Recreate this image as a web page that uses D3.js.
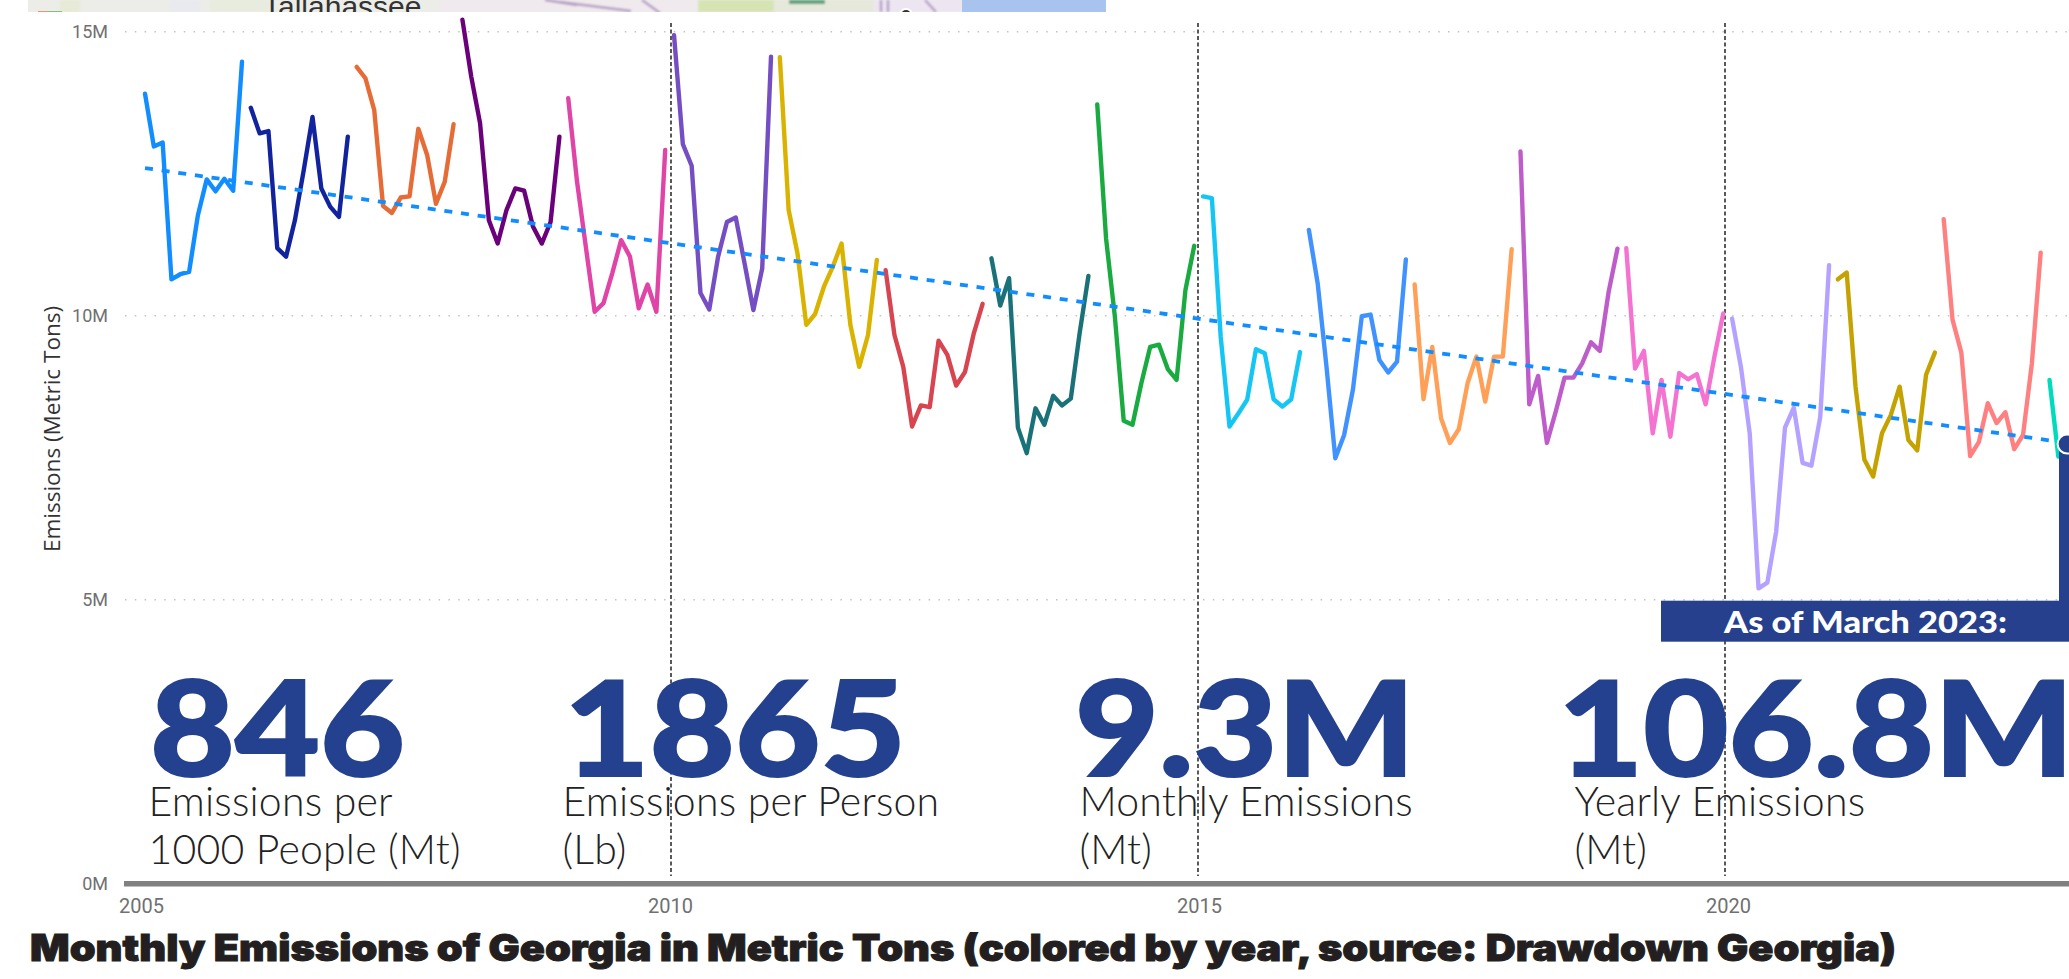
<!DOCTYPE html>
<html>
<head>
<meta charset="utf-8">
<script src="https://cdn.jsdelivr.net/npm/d3@7"></script>
<style>
    html, body { margin: 0; padding: 0; background: #fff; overflow: hidden; }
    svg { display: block; }
</style>
</head>
<body>
<div id="chartContainer"></div>
<script>
// monthly emissions in millions of metric tons
const m2005 = [13.91, 12.98, 13.05, 10.64, 10.73, 10.77, 11.77, 12.40, 12.19, 12.41, 12.20, 14.47];
const m2006 = [13.66, 13.21, 13.25, 11.19, 11.04, 11.68, 12.56, 13.50, 12.24, 11.92, 11.74, 13.15];
const m2007 = [14.38, 14.18, 13.62, 11.93, 11.81, 12.08, 12.10, 13.29, 12.83, 11.97, 12.36, 13.37];
const m2008 = [15.21, 14.21, 13.39, 11.68, 11.27, 11.86, 12.24, 12.20, 11.57, 11.27, 11.65, 13.15];
const m2009 = [13.83, 12.36, 11.21, 10.07, 10.22, 10.75, 11.33, 11.04, 10.13, 10.55, 10.07, 12.92];
const m2010 = [14.94, 13.02, 12.64, 10.40, 10.11, 11.04, 11.65, 11.73, 10.92, 10.10, 10.83, 14.56];
const m2011 = [14.55, 11.86, 11.10, 9.84, 10.03, 10.51, 10.86, 11.27, 9.84, 9.10, 9.66, 10.98];
const m2012 = [10.80, 9.66, 9.10, 8.05, 8.42, 8.39, 9.56, 9.31, 8.77, 9.01, 9.69, 10.21];
const m2013 = [11.01, 10.18, 10.66, 8.03, 7.58, 8.37, 8.08, 8.59, 8.42, 8.54, 9.69, 10.70];
const m2014 = [13.72, 11.36, 9.98, 8.15, 8.08, 8.81, 9.45, 9.49, 9.06, 8.87, 10.45, 11.23];
const m2015 = [12.10, 12.07, 9.63, 8.05, 8.28, 8.52, 9.41, 9.34, 8.53, 8.40, 8.53, 9.36];
const m2016 = [11.51, 10.57, 9.10, 7.49, 7.90, 8.70, 9.99, 10.02, 9.22, 9.00, 9.19, 10.99];
const m2017 = [10.55, 8.53, 9.45, 8.19, 7.76, 8.00, 8.81, 9.28, 8.49, 9.28, 9.28, 11.17];
const m2018 = [12.89, 8.44, 8.94, 7.76, 8.31, 8.91, 8.91, 9.16, 9.53, 9.38, 10.42, 11.18];
const m2019 = [11.19, 9.07, 9.38, 7.93, 8.87, 7.87, 8.99, 8.88, 8.97, 8.44, 9.28, 10.04];
const m2020 = [9.95, 9.10, 7.93, 5.20, 5.30, 6.20, 8.03, 8.38, 7.41, 7.36, 8.22, 10.89];
const m2021 = [10.64, 10.76, 8.75, 7.47, 7.17, 7.93, 8.25, 8.75, 7.81, 7.63, 8.96, 9.35];
const m2022 = [11.70, 9.93, 9.35, 7.53, 7.78, 8.46, 8.11, 8.30, 7.65, 7.90, 9.16, 11.11];
const m2023 = [8.87, 7.52];

const years = [2005, 2006, 2007, 2008, 2009, 2010, 2011, 2012, 2013, 2014, 2015, 2016, 2017, 2018, 2019, 2020, 2021, 2022, 2023];
const yearValues = [m2005, m2006, m2007, m2008, m2009, m2010, m2011, m2012, m2013, m2014, m2015, m2016, m2017, m2018, m2019, m2020, m2021, m2022, m2023];
const yearColors = ['#118DFF', '#12239E', '#E66C37', '#6B007B', '#E044A7', '#744EC2', '#D9B300', '#D64550', '#197278', '#1AAB40',
    '#15C6F4', '#4092FF', '#FFA058', '#BE5DC9', '#F472D0', '#B5A1FF', '#C4A200', '#FF8080', '#00DBBC'];

const trendTimes = [2005, 2023 + 2 / 12];
const trendValues = [12.60, 7.76];
const latestTime = 2023 + 2 / 12;
const latestValue = 7.74;

const yTicks = [0, 5, 10, 15];
const xTicks = [2005, 2010, 2015, 2020];
const dividerYears = [2010, 2015, 2020];

const kpiValues = ['846', '1865', '9.3M', '106.8M'];
const kpiLabels = [
    ['Emissions per', '1000 People (Mt)'],
    ['Emissions per Person', '(Lb)'],
    ['Monthly Emissions', '(Mt)'],
    ['Yearly Emissions', '(Mt)']
];

const svgWidth = 2069;
const svgHeight = 979;
const navy = '#26408E';

const xScale = d3.scaleLinear().domain([2005, 2023]).range([145, 2049.5]);
const yScale = d3.scaleLinear().domain([0, 15]).range([883.7, 31.7]);
// the axis labels and hand placed dividers sit a little left of the data
const xLabelScale = d3.scaleLinear().domain([2005, 2020]).range([141, 1728]);
const dividerScale = d3.scaleLinear().domain([2010, 2020]).range([671, 1725]);

const svg = d3.select('#chartContainer')
    .append('svg')
    .attr('width', svgWidth)
    .attr('height', svgHeight);

const defs = svg.append('defs');
defs.append('clipPath').attr('id', 'mapClip')
    .append('rect').attr('x', 28).attr('y', 0).attr('width', 1078).attr('height', 12);
defs.append('filter').attr('id', 'soft')
    .append('feGaussianBlur').attr('stdDeviation', 1.2);

// strip of the map that sits above the chart
const map = svg.append('g').attr('clip-path', 'url(#mapClip)');
map.append('rect').attr('x', 28).attr('y', 0).attr('width', 1078).attr('height', 12).attr('fill', '#ECECE8');
const mapInner = map.append('g').attr('filter', 'url(#soft)');
const mapPatches = [
    [60, 0, 20, 12, '#E8EAD8'],
    [170, 0, 30, 12, '#E9EAF0'],
    [210, 0, 60, 12, '#E8ECDF'],
    [440, 0, 260, 12, '#F0EAEE'],
    [698, 0, 76, 12, '#D6E4B4'],
    [774, 0, 100, 12, '#E6E8DC'],
    [874, 0, 88, 12, '#EDE6F2'],
    [789, 0, 36, 4, '#5E9E7E']
];
mapInner.selectAll('rect').data(mapPatches).enter().append('rect')
    .attr('x', d => d[0]).attr('y', d => d[1]).attr('width', d => d[2]).attr('height', d => d[3])
    .attr('fill', d => d[4]);
const mapRoads = [
    [[545, 0], [577, 5]],
    [[560, 2], [631, 11]],
    [[642, 0], [660, 13]],
    [[881, 0], [881, 12]],
    [[888, 0], [888, 12]],
    [[925, 0], [936, 12]]
];
mapInner.selectAll('path').data(mapRoads).enter().append('path')
    .attr('d', d3.line())
    .attr('fill', 'none').attr('stroke', '#B49CC4').attr('stroke-width', 2.5);
map.append('rect').attr('x', 38).attr('y', 11).attr('width', 10).attr('height', 1).attr('fill', '#E8947A');
map.append('rect').attr('x', 48).attr('y', 11).attr('width', 14).attr('height', 1).attr('fill', '#7FBF7F');
map.append('rect').attr('x', 962).attr('y', 0).attr('width', 144).attr('height', 12).attr('fill', '#A8C3EE');
map.append('circle').attr('cx', 906).attr('cy', 15).attr('r', 6).attr('fill', '#333').attr('stroke', '#fff').attr('stroke-width', 2);
map.append('text').attr('x', 263).attr('y', 17)
    .style('font-family', '"Liberation Sans", sans-serif').style('font-size', '30px').attr('fill', '#333')
    .text('Tallahassee');

// gridlines
svg.append('g').selectAll('line').data(yTicks.filter(d => d > 0)).enter().append('line')
    .attr('x1', 125).attr('x2', svgWidth)
    .attr('y1', d => yScale(d)).attr('y2', d => yScale(d))
    .attr('stroke', '#C4C4C4').attr('stroke-width', 1.5).attr('stroke-dasharray', '1.5 8.3');

// y axis labels
const yAxis = d3.axisLeft(yScale).tickValues(yTicks).tickFormat(d => d + 'M').tickSize(0).tickPadding(0);
const yAxisG = svg.append('g').attr('transform', 'translate(108, 0)').call(yAxis);
yAxisG.select('.domain').remove();
yAxisG.selectAll('text').style('font-family', 'Roboto, sans-serif').style('font-size', '18px').attr('fill', '#707070');

// x axis labels
const xAxis = d3.axisBottom(xLabelScale).tickValues(xTicks).tickFormat(d3.format('d')).tickSize(0).tickPadding(0);
const xAxisG = svg.append('g').attr('transform', 'translate(0, 899)').call(xAxis);
xAxisG.select('.domain').remove();
xAxisG.selectAll('text').style('font-family', 'Roboto, sans-serif').style('font-size', '20px').attr('fill', '#707070');

svg.append('text')
    .attr('transform', 'translate(60, 429) rotate(-90)')
    .attr('text-anchor', 'middle')
    .style('font-family', '"Open Sans", sans-serif').style('font-size', '22.5px').attr('fill', '#333')
    .text('Emissions (Metric Tons)');

// dashed dividers at every fifth year
svg.append('g').selectAll('line').data(dividerYears).enter().append('line')
    .attr('x1', d => dividerScale(d)).attr('x2', d => dividerScale(d))
    .attr('y1', 23).attr('y2', 876)
    .attr('stroke', '#000').attr('stroke-width', 1.3).attr('stroke-dasharray', '4 2.5');

// baseline
svg.append('line')
    .attr('x1', 124).attr('x2', svgWidth)
    .attr('y1', yScale(0)).attr('y2', yScale(0))
    .attr('stroke', '#808080').attr('stroke-width', 5.5);

// one line per year
const line = d3.line()
    .x(d => xScale(d.t))
    .y(d => yScale(d.v));

const series = years.map((year, i) => ({
    year: year,
    color: yearColors[i],
    points: yearValues[i].map((v, m) => ({ t: year + m / 12, v: v }))
}));

svg.append('g').selectAll('path').data(series).enter().append('path')
    .attr('d', d => line(d.points))
    .attr('fill', 'none')
    .attr('stroke', d => d.color)
    .attr('stroke-width', 4.4)
    .attr('stroke-linejoin', 'round')
    .attr('stroke-linecap', 'round');

// trend
svg.append('path')
    .attr('d', line(trendTimes.map((t, i) => ({ t: t, v: trendValues[i] }))))
    .attr('fill', 'none')
    .attr('stroke', '#118DFF')
    .attr('stroke-width', 3.8)
    .attr('stroke-dasharray', '8 8.8');

// callout for the latest month
svg.append('rect')
    .attr('x', 2059).attr('y', yScale(latestValue))
    .attr('width', 10).attr('height', 601 - yScale(latestValue))
    .attr('fill', navy);
svg.append('circle')
    .attr('cx', xScale(latestTime)).attr('cy', yScale(latestValue)).attr('r', 9.5)
    .attr('fill', navy).attr('stroke', '#fff').attr('stroke-width', 2);
svg.append('rect')
    .attr('x', 1661).attr('y', 600.7).attr('width', 408).attr('height', 41)
    .attr('fill', navy);
svg.append('text')
    .attr('x', 1724).attr('y', 633)
    .attr('textLength', 283).attr('lengthAdjust', 'spacingAndGlyphs')
    .style('font-family', 'Lato, sans-serif').style('font-weight', 900).style('font-size', '30px')
    .attr('fill', '#fff')
    .text('As of March 2023:');

// big numbers
const kpiX = [150, 564, 1075, 1558];
const kpiWidth = [255, 342, 340, 516];
const kpiLabelX = [148.5, 562.5, 1079.5, 1574.5];
svg.append('g').selectAll('text').data(kpiValues).enter().append('text')
    .attr('x', (d, i) => kpiX[i]).attr('y', 775.7)
    .attr('textLength', (d, i) => kpiWidth[i]).attr('lengthAdjust', 'spacingAndGlyphs')
    .style('font-family', 'Lato, sans-serif').style('font-weight', 900).style('font-size', '131px')
    .attr('fill', '#24418F').attr('stroke', '#24418F').attr('stroke-width', 2)
    .text(d => d);

const kpiLabelG = svg.append('g').selectAll('text').data(kpiLabels).enter().append('text')
    .attr('y', 816)
    .style('font-family', 'Lato, sans-serif').style('font-weight', 300).style('font-size', '41px')
    .style('letter-spacing', '0.2px')
    .attr('fill', '#222');
kpiLabelG.selectAll('tspan').data((d, i) => d.map(t => ({ t: t, x: kpiLabelX[i] }))).enter().append('tspan')
    .attr('x', d => d.x)
    .attr('dy', (d, i) => i === 0 ? 0 : 48)
    .text(d => d.t);

// title
svg.append('text')
    .attr('x', 30).attr('y', 960.7)
    .attr('textLength', 1866).attr('lengthAdjust', 'spacingAndGlyphs')
    .style('font-family', 'Inter, Lato, sans-serif').style('font-weight', 900).style('font-size', '37px')
    .attr('fill', '#231F20').attr('stroke', '#231F20').attr('stroke-width', 1)
    .text('Monthly Emissions of Georgia in Metric Tons (colored by year, source: Drawdown Georgia)');
</script>
</body>
</html>
